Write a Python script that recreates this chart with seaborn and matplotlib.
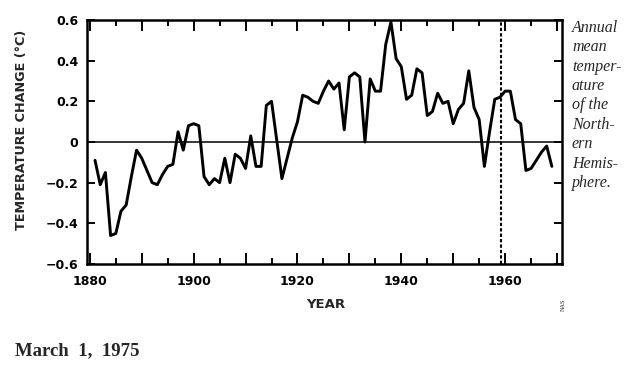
import matplotlib
matplotlib.use("Agg")
import matplotlib.pyplot as plt
import seaborn as sns
from matplotlib.ticker import FixedLocator, MultipleLocator

# Annual mean temperature change, Northern Hemisphere
years = list(range(1881, 1970))
temp_change = [
    -0.09, -0.21, -0.15, -0.46, -0.45, -0.34, -0.31, -0.17, -0.04, -0.08,   # 1881-1890
    -0.14, -0.20, -0.21, -0.16, -0.12, -0.11, 0.05, -0.04, 0.08, 0.09,      # 1891-1900
    0.08, -0.17, -0.21, -0.18, -0.20, -0.08, -0.20, -0.06, -0.08, -0.13,    # 1901-1910
    0.03, -0.12, -0.12, 0.18, 0.20, 0.01, -0.18, -0.08, 0.02, 0.10,         # 1911-1920
    0.23, 0.22, 0.20, 0.19, 0.25, 0.30, 0.26, 0.29, 0.06, 0.32,             # 1921-1930
    0.34, 0.32, 0.00, 0.31, 0.25, 0.25, 0.48, 0.59, 0.41, 0.37,             # 1931-1940
    0.21, 0.23, 0.36, 0.34, 0.13, 0.15, 0.24, 0.19, 0.20, 0.09,             # 1941-1950
    0.16, 0.19, 0.35, 0.17, 0.11, -0.12, 0.05, 0.21, 0.22, 0.25,            # 1951-1960
    0.25, 0.11, 0.09, -0.14, -0.13, -0.09, -0.05, -0.02, -0.12,             # 1961-1969
]
marker_year = 1959.2

xtick_years = [1880, 1890, 1900, 1910, 1920, 1930, 1940, 1950, 1960, 1970]
xtick_labels = ["1880", "", "1900", "", "1920", "", "1940", "", "1960", ""]
ytick_values = [-0.6, -0.4, -0.2, 0, 0.2, 0.4, 0.6]
ytick_labels = ["\u22120.6", "\u22120.4", "\u22120.2", "0", "0.2", "0.4", "0.6"]

caption = "Annual\nmean\ntemper-\nature\nof the\nNorth-\nern\nHemis-\nphere."

sns.set_style("ticks")
plt.rcParams["font.family"] = ["DejaVu Sans"]

fig = plt.figure(figsize=(6.4, 3.7), dpi=100)
ax = fig.add_axes([0.1355, 0.2865, 0.7422, 0.6595])

sns.lineplot(x=years, y=temp_change, color="black", linewidth=2.1, ax=ax)
ax.axhline(0, color="black", linewidth=1.1)
ax.axvline(marker_year, color="black", linewidth=1.5, linestyle=(0, (1.6, 1.0)))

ax.set_xlim(1879.4, 1970.9)
ax.set_ylim(-0.6, 0.6)

ax.xaxis.set_major_locator(FixedLocator(xtick_years))
ax.set_xticklabels(xtick_labels)
ax.xaxis.set_minor_locator(MultipleLocator(5))
ax.set_yticks(ytick_values)
ax.set_yticklabels(ytick_labels)

ax.tick_params(axis="both", which="both", direction="in", top=True, right=True,
               width=1.4, color="black", labelcolor="black")
ax.tick_params(axis="x", which="major", length=8, pad=8)
ax.tick_params(axis="x", which="minor", length=4.5)
ax.tick_params(axis="y", which="major", length=6, pad=6)
for lab in ax.get_xticklabels() + ax.get_yticklabels():
    lab.set_fontweight("bold")
    lab.set_fontsize(9)

for sp in ax.spines.values():
    sp.set_linewidth(1.8)
    sp.set_color("black")
ax.set_xlabel("")
ax.set_ylabel("")

fig.text(22 / 640, 1 - 130 / 370, "TEMPERATURE CHANGE (\u00b0C)", rotation=90,
         ha="center", va="center", fontsize=9.2, fontweight="bold")
fig.text(326 / 640, 1 - 304 / 370, "YEAR", ha="center", va="center",
         fontsize=9.5, fontweight="bold")

fig.text(572 / 640, 1 - 20 / 370, caption, ha="left", va="top",
         family="Liberation Serif", fontstyle="italic", fontsize=11.5,
         linespacing=1.28)
fig.text(563 / 640, 1 - 305 / 370, "NAS", rotation=90, ha="center", va="center",
         family="Liberation Serif", fontsize=4.5)
fig.text(15 / 640, 1 - 351 / 370, "March  1,  1975", ha="left", va="center",
         family="Liberation Serif", fontweight="bold", fontsize=13.5)

fig.savefig("out.png", dpi=100)
